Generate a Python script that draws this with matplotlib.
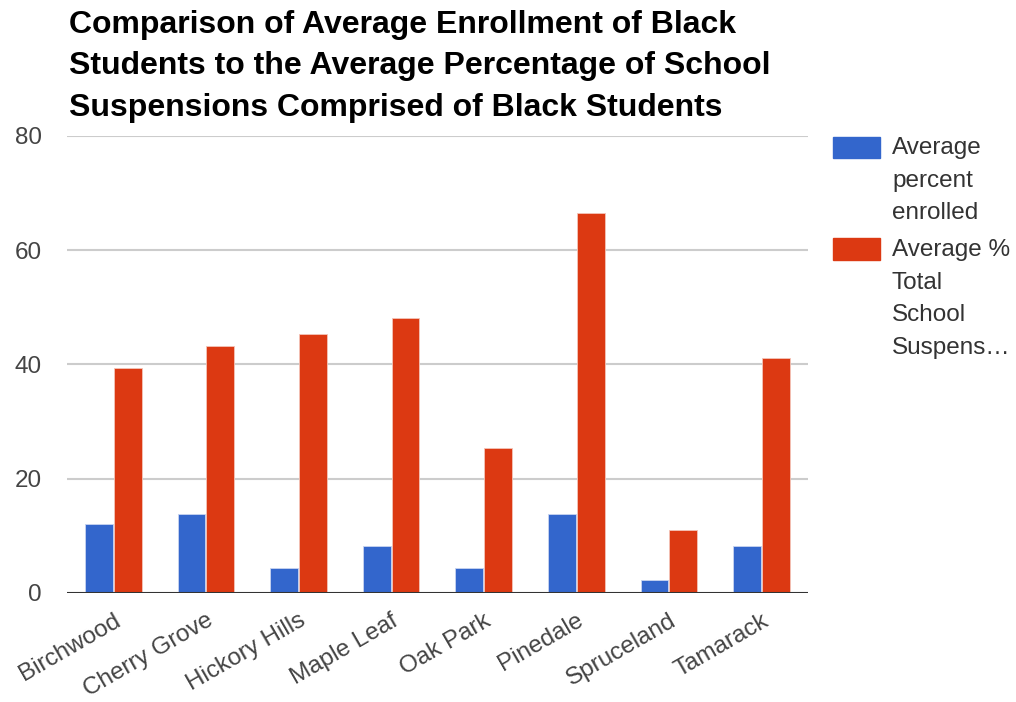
import numpy as np
import matplotlib.pyplot as plt
from matplotlib.patches import Rectangle

# Datos
escuelas = ['Birchwood', 'Cherry Grove', 'Hickory Hills', 'Maple Leaf',
            'Oak Park', 'Pinedale', 'Spruceland', 'Tamarack']
inscritos = [12.1, 13.8, 4.3, 8.2, 4.3, 13.8, 2.2, 8.2]
suspensiones = [39.4, 43.3, 45.4, 48.2, 25.4, 66.5, 11.0, 41.2]
y_ticks = [0, 20, 40, 60, 80]

titulo = ('Comparison of Average Enrollment of Black\n'
          'Students to the Average Percentage of School\n'
          'Suspensions Comprised of Black Students')
leyenda_1 = 'Average\npercent\nenrolled'
leyenda_2 = 'Average %\nTotal\nSchool\nSuspens\u2026'

azul = '#3366cc'
rojo = '#dc3912'
gris = '#444444'

plt.rcParams['font.family'] = ['Liberation Sans', 'DejaVu Sans']

fig = plt.figure(figsize=(10.16, 7.02), dpi=100)
ax = fig.add_axes([0.066, 0.1553, 0.729, 0.651])

x = np.arange(len(escuelas))
ancho = 0.30
ax.bar(x - 0.156, inscritos, ancho, color=azul, edgecolor='#c8d4f0', linewidth=0.6, zorder=3)
ax.bar(x + 0.156, suspensiones, ancho, color=rojo, edgecolor='#f4c4b8', linewidth=0.6, zorder=3)

ax.set_xlim(-0.5, len(escuelas) - 0.5)
ax.set_ylim(0, 80)
ax.set_yticks(y_ticks)
ax.yaxis.grid(True, color='#cccccc', linewidth=1.5, zorder=0)
ax.axhline(0, color='#333333', linewidth=2.2, zorder=4)
for s in ax.spines.values():
    s.set_visible(False)
ax.tick_params(axis='both', length=0, colors=gris, labelsize=17.5)
ax.tick_params(axis='y', pad=18)
ax.set_xticks(x)
ax.set_xticklabels(escuelas, rotation=30, ha='right', rotation_mode='anchor')
ax.tick_params(axis='x', pad=12)

fig.text(0.068, 0.986, titulo, fontsize=23, fontweight='bold', va='top', ha='left',
         linespacing=1.5, color='black')

# Leyenda a mano
fig.add_artist(Rectangle((833 / 1016, 1 - 158 / 702), 47 / 1016, 21 / 702,
                         transform=fig.transFigure, color=azul))
fig.add_artist(Rectangle((833 / 1016, 1 - 260 / 702), 47 / 1016, 22 / 702,
                         transform=fig.transFigure, color=rojo))
fig.text(892 / 1016, 1 - 137 / 702, leyenda_1, fontsize=17.5, color='#333333',
         va='top', ha='left', linespacing=1.62)
fig.text(892 / 1016, 1 - 239 / 702, leyenda_2, fontsize=17.5, color='#333333',
         va='top', ha='left', linespacing=1.62)

fig.savefig('out.png', dpi=100, facecolor='white')
